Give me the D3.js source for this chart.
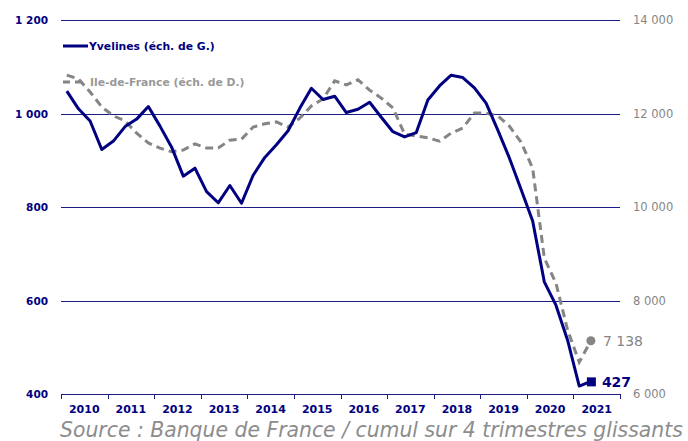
<!DOCTYPE html>
<html>
<head>
<meta charset="utf-8">
<script src="https://cdn.jsdelivr.net/npm/d3@7"></script>
<style>
  body { margin: 0; background: #fff; }
  text { font-family: "DejaVu Sans", sans-serif; }
</style>
</head>
<body>
<div id="chart"></div>
<script>
// quarterly data, 2010 T1 -> 2021 T2 (cumul sur 4 trimestres)
const years = d3.range(2010, 2022);
const yvelines = [1048, 1010, 984, 923, 941, 972, 988, 1015, 973, 928, 866, 883,
  833, 809, 846, 808, 868, 906, 933, 963, 1011, 1054, 1030, 1037,
  1002, 1009, 1024, 992, 961, 950, 959, 1029, 1059, 1082, 1077, 1055,
  1022, 965, 905, 838, 770, 640, 590, 515, 417, 427];
const idf = [12820, 12740, 12460, 12140, 11950, 11840, 11580, 11370, 11260, 11180, 11220, 11350,
  11260, 11260, 11430, 11450, 11710, 11780, 11820, 11710, 11900, 12160, 12310, 12700,
  12610, 12720, 12500, 12330, 12120, 11560, 11520, 11480, 11410, 11580, 11690, 12010,
  12010, 11950, 11730, 11390, 10830, 8910, 8370, 7370, 6680, 7138];
const leftTicks = [400, 600, 800, 1000, 1200];
const rightTicks = [6000, 8000, 10000, 12000, 14000];

const width = 688, height = 441;
const margin = {top: 20, right: 68, bottom: 47, left: 61};
const navy = "#000080", grey = "#858585";

const svg = d3.select("#chart").append("svg")
  .attr("width", width).attr("height", height);

const x = d3.scaleLinear().domain([0, years.length * 4]).range([margin.left, width - margin.right]);
const yL = d3.scaleLinear().domain([400, 1200]).range([height - margin.bottom, margin.top]);
const yR = d3.scaleLinear().domain([6000, 14000]).range([height - margin.bottom, margin.top]);

// gridlines
svg.append("g").selectAll("line")
  .data(leftTicks)
  .enter().append("line")
  .attr("x1", x(0)).attr("x2", x(years.length * 4))
  .attr("y1", d => Math.round(yL(d)) + 0.5).attr("y2", d => Math.round(yL(d)) + 0.5)
  .attr("stroke", "#1c1c88").attr("stroke-width", 1);

// year ticks on bottom axis
svg.append("g").selectAll("line")
  .data(d3.range(0, years.length + 1))
  .enter().append("line")
  .attr("x1", d => Math.round(x(d * 4)) + 0.5).attr("x2", d => Math.round(x(d * 4)) + 0.5)
  .attr("y1", yL(400)).attr("y2", yL(400) + 5)
  .attr("stroke", "#1c1c88");

svg.append("g").selectAll("text")
  .data(years)
  .enter().append("text")
  .attr("x", (d, i) => x(i * 4 + 2))
  .attr("y", yL(400) + 19)
  .attr("text-anchor", "middle")
  .attr("font-size", 11).attr("font-weight", "bold").attr("fill", navy)
  .text(d => d);

const fmt = d => d3.format(",")(d).replace(/,/g, " ");

svg.append("g").selectAll("text")
  .data(leftTicks)
  .enter().append("text")
  .attr("x", 48).attr("y", d => yL(d) + 4)
  .attr("text-anchor", "end")
  .attr("font-size", 10.5).attr("font-weight", "bold").attr("fill", navy)
  .text(fmt);

svg.append("g").selectAll("text")
  .data(rightTicks)
  .enter().append("text")
  .attr("x", 633).attr("y", d => yR(d) + 4)
  .attr("font-size", 11.5).attr("fill", grey)
  .text(fmt);

// lines
const lineL = d3.line().x((d, i) => x(i + 0.5)).y(d => yL(d));
const lineR = d3.line().x((d, i) => x(i + 0.5)).y(d => yR(d));

svg.append("path").datum(idf)
  .attr("d", lineR)
  .attr("fill", "none").attr("stroke", grey).attr("stroke-width", 3)
  .attr("stroke-dasharray", "8,5");

svg.append("path").datum(yvelines)
  .attr("d", lineL)
  .attr("fill", "none").attr("stroke", navy).attr("stroke-width", 3)
  .attr("stroke-linejoin", "round");

// end markers
const last = yvelines.length - 1;
svg.append("circle")
  .attr("cx", x(last + 0.5)).attr("cy", yR(idf[last])).attr("r", 4.5)
  .attr("fill", grey);
svg.append("text")
  .attr("x", x(last + 0.5) + 12).attr("y", yR(idf[last]) + 5)
  .attr("font-size", 14).attr("fill", grey)
  .text(fmt(idf[last]));

svg.append("rect")
  .attr("x", x(last + 0.5) - 4).attr("y", yL(yvelines[last]) - 4)
  .attr("width", 9).attr("height", 9)
  .attr("fill", navy);
svg.append("text")
  .attr("x", x(last + 0.5) + 11).attr("y", yL(yvelines[last]) + 6)
  .attr("font-size", 14).attr("font-weight", "bold").attr("fill", navy)
  .text(yvelines[last]);

// legend
const legend = svg.append("g");
legend.append("line")
  .attr("x1", 63).attr("x2", 88).attr("y1", 46).attr("y2", 46)
  .attr("stroke", navy).attr("stroke-width", 3);
legend.append("text")
  .attr("x", 89).attr("y", 50)
  .attr("font-size", 10.8).attr("font-weight", "bold").attr("fill", navy)
  .text("Yvelines (éch. de G.)");
legend.append("line")
  .attr("x1", 63).attr("x2", 86).attr("y1", 82).attr("y2", 82)
  .attr("stroke", grey).attr("stroke-width", 3).attr("stroke-dasharray", "7,5");
legend.append("text")
  .attr("x", 90).attr("y", 86)
  .attr("font-size", 10.8).attr("font-weight", "bold").attr("fill", "#999")
  .text("Ile-de-France (éch. de D.)");

// source
const src = svg.append("text")
  .attr("x", 60).attr("y", 437)
  .attr("font-size", 18).attr("font-style", "italic").attr("fill", "#8c8c8c")
  .text("Source : Banque de France / cumul sur 4 trimestres glissants");
const w = src.node().getComputedTextLength();
src.attr("font-size", 18 * 623 / w);
</script>
</body>
</html>
